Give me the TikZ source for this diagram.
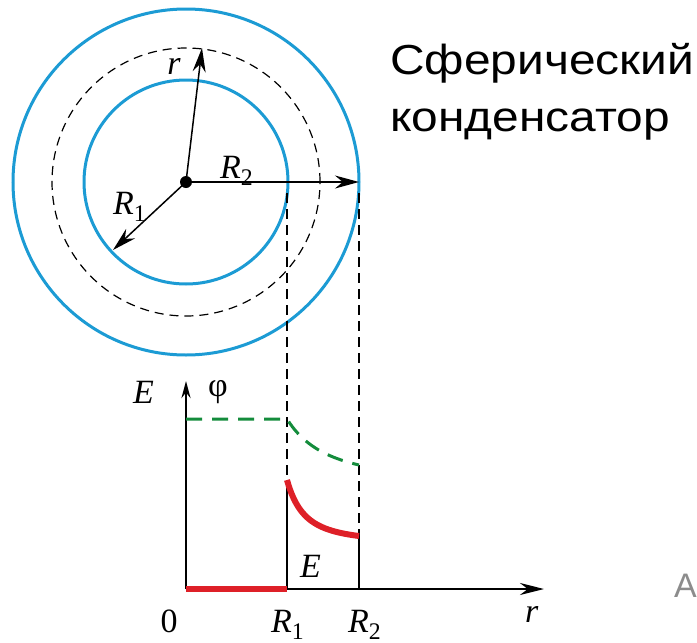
\documentclass[tikz,border=0pt]{standalone}
\usepackage{fontspec}
\setmainfont{Liberation Serif}
\newfontfamily\titlefont{Liberation Sans}
\usetikzlibrary{arrows.meta}
\definecolor{shellblue}{RGB}{28,155,212}
\definecolor{fieldred}{RGB}{222,32,40}
\definecolor{potgreen}{RGB}{20,140,60}
\definecolor{cutgray}{RGB}{140,140,140}

\begin{document}
\begin{tikzpicture}[
        x=1pt, y=-1pt,
        shell/.style={draw=shellblue, line width=3pt},
        gauss/.style={draw=black, line width=1.2pt, dash pattern=on 9pt off 6pt},
        guide/.style={black, line width=1.2pt, dash pattern=on 10pt off 6pt},
        radial/.style={-{Stealth[length=24pt,width=13pt]}, line width=1.5pt},
        graphaxis/.style={-{Stealth[length=24pt,width=12pt]}, line width=2.5pt},
        field/.style={fieldred, line width=6pt},
        potential/.style={potgreen, line width=3pt, dash pattern=on 16pt off 10pt},
        lbl/.style={font=\fontsize{34}{34}\selectfont\itshape, inner sep=0pt},
        title/.style={font=\titlefont\fontsize{42}{42}\selectfont, inner sep=0pt, anchor=base west, xscale=1.14},
    ]
        \useasboundingbox (0,0) rectangle (697,643);

        % spheres
        \coordinate (O) at (186,182);
        \draw[shell] (O) circle[radius=173pt];
        \draw[shell] (O) circle[radius=102pt];
        \draw[gauss] (O) circle[radius=134pt];
        \fill (O) circle[radius=6pt];

        \coordinate (R2tip) at (359,182);
        \coordinate (R1tip) at (113,250);
        \coordinate (rtip) at (202,48);
        \draw[radial] (O) -- (R2tip);
        \draw[radial] (O) -- (R1tip);
        \draw[radial] (O) -- (rtip);

        \node[lbl] (rtop) at (174,66) {r};
        \node[lbl, anchor=base west] (R2top) at (220,178) {R\textsubscript{\upshape 2}};
        \node[lbl, anchor=base west] (R1top) at (113,214) {R\textsubscript{\upshape 1}};

        \node[title] (title1) at (390,74) {Сферический};
        \node[title] (title2) at (390,131) {конденсатор};

        % graph
        \coordinate (orig) at (186,589);
        \coordinate (ytop) at (186,381);
        \coordinate (xend) at (544,589);
        \coordinate (foot1) at (287,589);
        \coordinate (foot2) at (359,589);
        \coordinate (E1) at (287,480);
        \coordinate (E2) at (359,536);
        \coordinate (g1) at (287,193);
        \coordinate (g2) at (359,193);
        \coordinate (phi0) at (186,419);
        \coordinate (phi1) at (287,419);

        \draw[guide] (g1) -- (E1);
        \draw[guide] (g2) -- (E2);

        \draw[graphaxis, -{Stealth[length=17pt,width=9pt]}] (orig) -- (ytop);
        \draw[graphaxis] (foot1) -- (xend);
        \draw[line width=2.5pt] (foot1) -- (E1);
        \draw[line width=2.5pt] (foot2) -- (E2);
        \draw[field] (orig) -- (foot1);
        \draw[field] plot[domain=287:359, samples=50] (\x, {589-46.3-62.7*(35/(\x-252))^2});
        \draw[potential] (phi0) -- (phi1) -- plot[domain=287:359, samples=40] (\x, {589-106.4-63.6*(80/(\x-207))^2});

        \node[lbl, anchor=base west] (Eax) at (133,403) {E};
        \node[lbl, font=\fontsize{34}{34}\selectfont, inner sep=0pt] (phiax) at (218,392) {φ};
        \node[lbl, anchor=base west] (Ecurve) at (300,577) {E};
        \node[lbl, font=\fontsize{34}{34}\selectfont, anchor=base] (zero) at (169,632) {0};
        \node[lbl, anchor=base west] (R1bot) at (271,632) {R\textsubscript{\upshape 1}};
        \node[lbl, anchor=base west] (R2bot) at (348,632) {R\textsubscript{\upshape 2}};
        \node[lbl, anchor=base west] (rbot) at (525,622) {r};

        \node[title, xscale=1/1.14, font=\titlefont\fontsize{34}{34}\selectfont, text=cutgray] (cut) at (674,597) {A};
    \end{tikzpicture}
\end{document}
